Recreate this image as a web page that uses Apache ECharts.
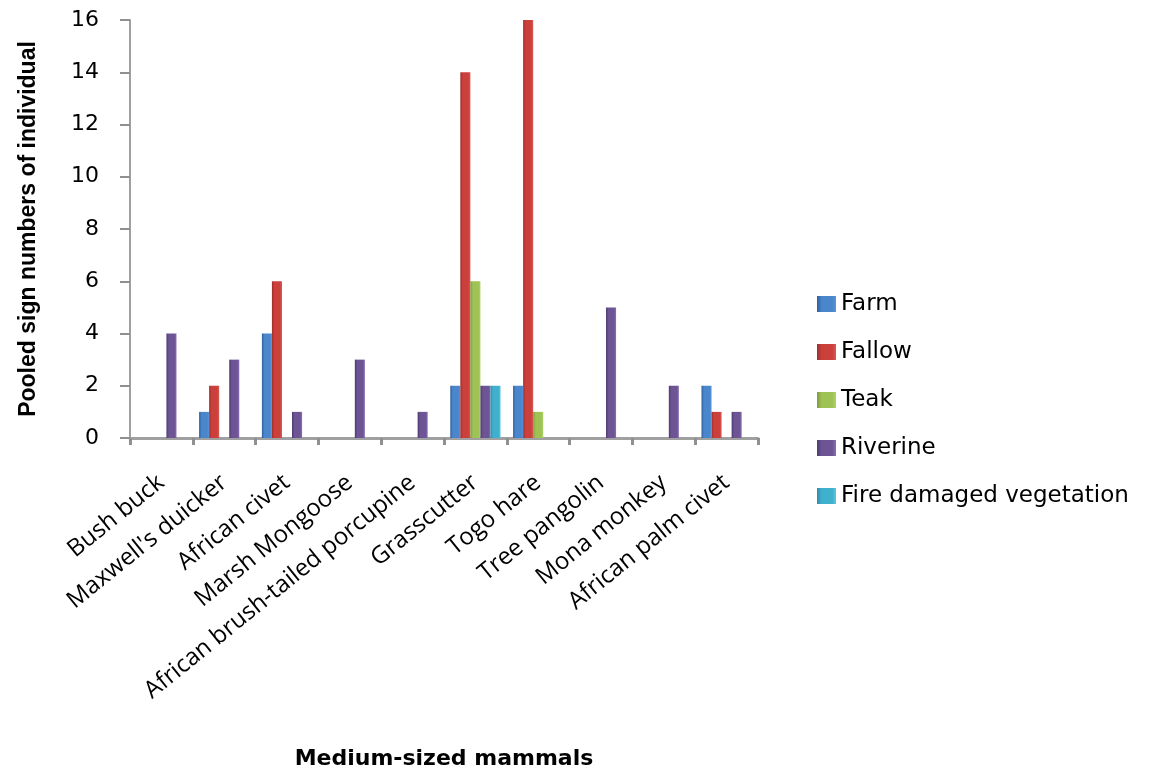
<!DOCTYPE html>
<html><head><meta charset="utf-8">
<script src="https://cdn.jsdelivr.net/npm/echarts@6/dist/echarts.min.js"></script>
<style>html,body{margin:0;padding:0;background:#fff}#c{width:1160px;height:768px}</style>
</head><body><div id="c"></div>
<script>
const categories = ["Bush buck","Maxwell's duicker","African civet","Marsh Mongoose","African brush-tailed porcupine","Grasscutter","Togo hare","Tree pangolin","Mona monkey","African palm civet"];
const seriesNames = ["Farm","Fallow","Teak","Riverine","Fire damaged vegetation"];
const farm = [0,1,4,0,0,2,2,0,0,2];
const fallow = [0,2,6,0,0,14,16,0,0,1];
const teak = [0,0,0,0,0,6,1,0,0,0];
const riverine = [4,3,1,3,1,2,0,5,2,1];
const fire = [0,0,0,0,0,2,0,0,0,0];
const yTicks = [0,2,4,6,8,10,12,14,16];

const palette = [
  ['#2f5f9e','#4a86cc','#5b93d6'],
  ['#9e2e2b','#cc403c','#d65a56'],
  ['#7e9c3e','#9fc254','#b0d36a'],
  ['#4e3a70','#6d5494','#8a6fb3'],
  ['#2d8ea8','#3fb1cf','#5cc4df']
];
function grad(c){
  return new echarts.graphic.LinearGradient(0,0,1,0,[
    {offset:0,color:c[0]},{offset:0.25,color:c[1]},{offset:0.8,color:c[1]},{offset:1,color:c[2]}]);
}
const data = [farm,fallow,teak,riverine,fire];
const chart = echarts.init(document.getElementById('c'));
chart.setOption({
  animation:false,
  backgroundColor:'#fff',
  grid:{left:130,right:402,top:20,bottom:330,containLabel:false,outerBoundsMode:'none'},
  legend:{
    orient:'vertical', left:812, top:287, itemGap:24, itemWidth:19, itemHeight:16,
    icon:'rect',
    textStyle:{fontFamily:'DejaVu Sans',fontSize:23,lineHeight:24,color:'#000'},
    data:seriesNames
  },
  xAxis:{
    type:'category', data:categories,
    axisLine:{lineStyle:{color:'#a0a0a0',width:3}},
    axisTick:{show:true,length:7,lineStyle:{color:'#909090',width:3}},
    axisLabel:{rotate:39,interval:0,fontFamily:'Open Sans',fontSize:24,color:'#000',margin:26,
      align:'right',verticalAlign:'top',padding:[0,10,0,0]},
    name:'Medium-sized mammals', nameLocation:'middle', nameGap:310,
    nameTextStyle:{fontFamily:'DejaVu Sans',fontWeight:'bold',fontSize:22,color:'#000'}
  },
  yAxis:{
    type:'value', min:0, max:16, interval:2,
    axisLine:{show:true,lineStyle:{color:'#a0a0a0',width:2}},
    axisTick:{show:true,length:10,lineStyle:{color:'#909090',width:2}},
    axisLabel:{fontFamily:'DejaVu Sans',fontSize:22,color:'#000',margin:31,
      formatter:v=>yTicks.includes(v)?String(v):''},
    splitLine:{show:false},
    name:'Pooled sign numbers of individual', nameLocation:'middle', nameGap:90,
    nameTextStyle:{fontFamily:'Liberation Sans',fontWeight:'bold',fontSize:23,color:'#000'}
  },
  series: seriesNames.map((n,i)=>({
    name:n, type:'bar', data:data[i], barGap:'0%', barCategoryGap:'20%',
    itemStyle:{color:grad(palette[i])},
    emphasis:{disabled:true}
  }))
});
</script></body></html>
